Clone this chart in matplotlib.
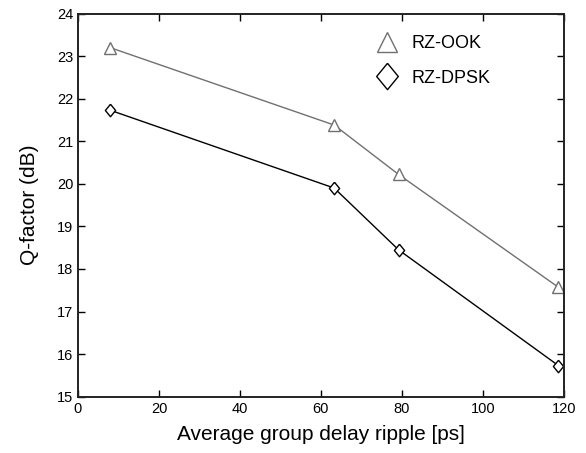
import matplotlib
matplotlib.use('Agg')
import matplotlib.pyplot as plt
from matplotlib.lines import Line2D

plt.rcParams['font.family'] = ['Liberation Sans', 'DejaVu Sans']

ripple = [7.9, 63.3, 79.2, 118.7]
q_ook = [23.2, 21.38, 20.22, 17.57]
q_dpsk = [21.73, 19.9, 18.45, 15.73]

# diamond a little taller than wide, like the original
diamond = [(0, 1), (0.82, 0), (0, -1), (-0.82, 0), (0, 1)]

fig = plt.figure(figsize=(5.86, 4.53), dpi=100)
ax = fig.add_axes([78/586, 1-396.7/453, (563.7-78)/586, (396.7-13.5)/453])

ax.plot(ripple, q_ook, color='#707070', lw=1.0, marker='^', ms=8,
        mfc='white', mec='#707070', mew=1.0)
ax.plot(ripple, q_dpsk, color='black', lw=1.0, marker=diamond, ms=9,
        mfc='white', mec='black', mew=1.0)

ax.set_xlim(0, 120)
ax.set_ylim(15, 24)
ax.set_xticks(range(0, 121, 20))
ax.set_yticks(range(15, 25))
ax.tick_params(direction='in', top=True, right=True, length=5, width=1,
               labelsize=10.5, colors='black')
for s in ax.spines.values():
    s.set_linewidth(1.4)
    s.set_color('#222222')

ax.set_xlabel('Average group delay ripple [ps]', fontsize=15, labelpad=7)
ax.set_ylabel('Q-factor (dB)', fontsize=15, labelpad=13)

handles = [Line2D([], [], ls='none', marker='^', ms=15, mfc='white',
                  mec='#707070', mew=1.0),
           Line2D([], [], ls='none', marker=diamond, ms=19, mfc='white',
                  mec='black', mew=1.0)]
ax.legend(handles, ['RZ-OOK', 'RZ-DPSK'], loc='upper left',
          bbox_to_anchor=(0.575, 0.985), frameon=False, fontsize=13,
          handletextpad=0.6, labelspacing=0.95, handlelength=1.5)

fig.savefig('out.png', dpi=100)
